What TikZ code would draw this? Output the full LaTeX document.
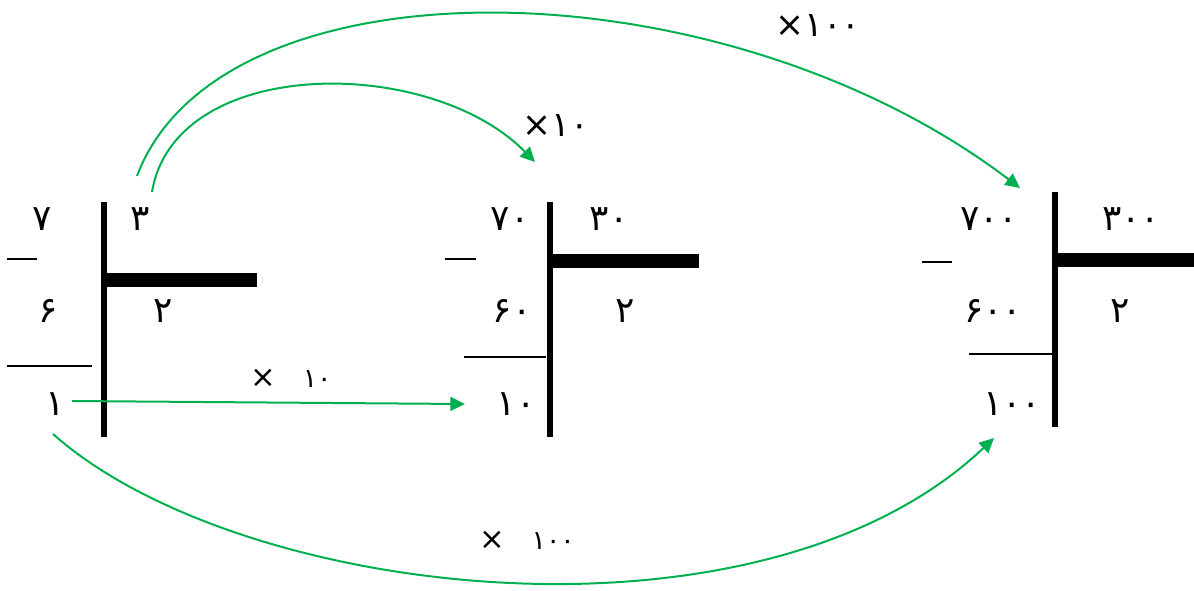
\documentclass[tikz,border=0pt]{standalone}
\usepackage{fontspec}
\usepackage{tikz}
\usepackage{color}
\usetikzlibrary{arrows.meta}
\newfontfamily\fadigits[Script=Arabic]{DejaVu Sans}
\newfontfamily\timesfont{DejaVu Sans}
\newcommand{\mulsign}{{\timesfont ×}}
\newcommand{\widemulsign}{{\timesfont\fontsize{23}{26}\selectfont ×}}
\definecolor{arrowgreen}{RGB}{0,176,80}

\begin{document}
\begin{tikzpicture}[x=0.75pt,y=0.75pt,yscale=-1,xscale=1,
  num/.style={inner sep=0.75pt,font=\fadigits\fontsize{27}{30}\selectfont},
  lbl/.style={inner sep=0.75pt,font=\fadigits\fontsize{26}{30}\selectfont},
  smalllbl/.style={inner sep=0.75pt,font=\fadigits\fontsize{20}{24}\selectfont},
  divbar/.style={line width=4.5pt},
  quotbar/.style={line width=10.5pt},
  subrule/.style={line width=1.2pt},
  mult/.style={draw=arrowgreen,line width=1.5pt,-{Triangle[length=11pt,width=10.5pt]}}
]
\useasboundingbox (0,0) rectangle (1194,590);

%Shape: Division 1
\draw [divbar] (104,202) -- (104,437) ;
\draw [quotbar] (104,280) -- (257,280) ;
\draw [subrule] (7,259) -- (37,259) ;
\draw [subrule] (7,366) -- (92,366) ;
% Text Node
\node (n7) at (42,219) [num] {۷};
\node (n3) at (140,219) [num] {۳};
\node (n6) at (48,311) [num] {۶};
\node (n2a) at (163,311) [num] {۲};
\node (n1) at (55,404) [num] {۱};

%Shape: Division 2
\draw [divbar] (549.5,202) -- (549.5,437) ;
\draw [quotbar] (549,261) -- (699,261) ;
\draw [subrule] (445,259) -- (476,259) ;
\draw [subrule] (464,357) -- (546,357) ;
% Text Node
\node (n70) at (510,219) [num] {۷۰};
\node (n30) at (609,219) [num] {۳۰};
\node (n60) at (512,311) [num] {۶۰};
\node (n2b) at (625,311) [num] {۲};
\node (n10) at (516,404) [num] {۱۰};

%Shape: Division 3
\draw [divbar] (1054.5,192) -- (1054.5,427) ;
\draw [quotbar] (1055,259.5) -- (1194,259.5) ;
\draw [subrule] (922,262) -- (952,262) ;
\draw [subrule] (969,354) -- (1052,354) ;
% Text Node
\node (n700) at (989,219) [num] {۷۰۰};
\node (n300) at (1131,219) [num] {۳۰۰};
\node (n600) at (993,311) [num] {۶۰۰};
\node (n2c) at (1120,311) [num] {۲};
\node (n100) at (1012,404) [num] {۱۰۰};

% Text Node
\node (x10top) at (556,125) [lbl] {\mulsign۱۰};
\node (x100top) at (818,25) [lbl] {\mulsign۱۰۰};
\node (x10mid) at (291,378) [smalllbl] {\widemulsign\quad ۱۰};
\node (x100bot) at (527,540) [smalllbl] {\widemulsign\quad ۱۰۰};

%Straight Lines
\draw [mult] ([shift={(17,-3)}]n1.center) -- ([shift={(-51,0)}]n10.center) ;
%Curve Lines
\draw [mult] ([shift={(12,-27)}]n3.center) .. controls (175,55) and (430,55) .. ([shift={(25,-57)}]n70.center) ;
\draw [mult] ([shift={(-3,-43)}]n3.center) .. controls (220,-45) and (720,-40) .. ([shift={(31,-31)}]n700.center) ;
\draw [mult] ([shift={(-2,30)}]n1.center) .. controls (240,600) and (760,660) .. ([shift={(-18,34)}]n100.center) ;

\end{tikzpicture}
\end{document}
